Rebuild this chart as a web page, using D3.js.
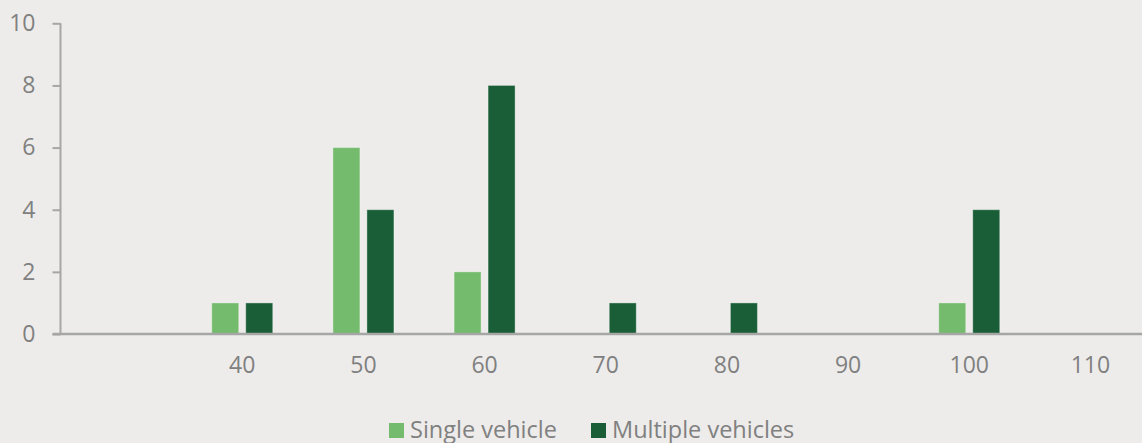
<!DOCTYPE html>
<html><head><meta charset="utf-8">
<script src="https://cdn.jsdelivr.net/npm/d3@7"></script>
<style>
html,body{margin:0;padding:0;background:#edecea;}
svg{display:block;}
text{font-family:"Open Sans",sans-serif;fill:#808080;}
</style></head>
<body>
<svg id="c" width="1142" height="443"></svg>
<script>
const categories = ["", "40", "50", "60", "70", "80", "90", "100", "110"];
const seriesNames = ["Single vehicle", "Multiple vehicles"];
const singleVehicle = [0, 1, 6, 2, 0, 0, 0, 1, 0];
const multipleVehicles = [0, 1, 4, 8, 1, 1, 0, 4, 0];
const yTicks = [0, 2, 4, 6, 8, 10];
const colors = ["#75bb6d", "#1a5e37"];

(function () {
const svg = d3.select("#c");
const mLeft = 60.5, mRight = 1151, mTop = 23.3, mBottom = 334;
const x = d3.scaleBand().domain(categories).range([mLeft, mRight]).paddingInner(0).paddingOuter(0);
const y = d3.scaleLinear().domain([0, 10]).range([mBottom, mTop]);
const barW = 27, gap = 7;

const data = [];
categories.forEach((c, i) => {
  [singleVehicle, multipleVehicles].forEach((s, k) => {
    if (s[i] > 0) data.push({cat: c, name: seriesNames[k], v: s[i], k});
  });
});

const groupOff = (x.bandwidth() - (barW * 2 + gap)) / 2;
svg.append("g").selectAll("rect").data(data).enter().append("rect")
  .attr("x", d => x(d.cat) + groupOff + (d.k === 0 ? 0 : barW + gap))
  .attr("width", barW)
  .attr("y", d => y(d.v))
  .attr("height", d => y(0) - y(d.v))
  .attr("fill", d => colors[d.k])
  .attr("stroke", "rgba(255,255,255,0.35)")
  .attr("stroke-width", 1);

const yAxis = d3.axisLeft(y).tickValues(yTicks).tickSize(8).tickPadding(17);
const gy = svg.append("g").attr("transform", `translate(${mLeft},0)`).call(yAxis);
gy.select(".domain").attr("stroke", "#a6a6a6").attr("stroke-width", 2).attr("d", `M0,${mTop}V${mBottom}`);
gy.selectAll(".tick line").attr("stroke", "#a6a6a6").attr("stroke-width", 2);
gy.selectAll(".tick text").attr("font-size", 23).attr("fill", "#808080").attr("font-family", "Open Sans");

const xAxis = d3.axisBottom(x).tickSize(0).tickPadding(23);
const gx = svg.append("g").attr("transform", `translate(0,${mBottom})`).call(xAxis);
gx.select(".domain").attr("stroke", "#a6a6a6").attr("stroke-width", 2.5).attr("d", `M${mLeft - 8},0H${mRight}`);
gx.selectAll(".tick text").attr("font-size", 23).attr("fill", "#808080").attr("font-family", "Open Sans");

const legendX = [389, 591];
const lg = svg.append("g");
seriesNames.forEach((n, k) => {
  lg.append("rect").attr("x", legendX[k]).attr("y", 423).attr("width", 15).attr("height", 15).attr("fill", colors[k]);
  lg.append("text").attr("x", legendX[k] + 21).attr("y", 437.5).attr("font-size", 23.5).text(n);
});
})();
</script>
</body></html>
